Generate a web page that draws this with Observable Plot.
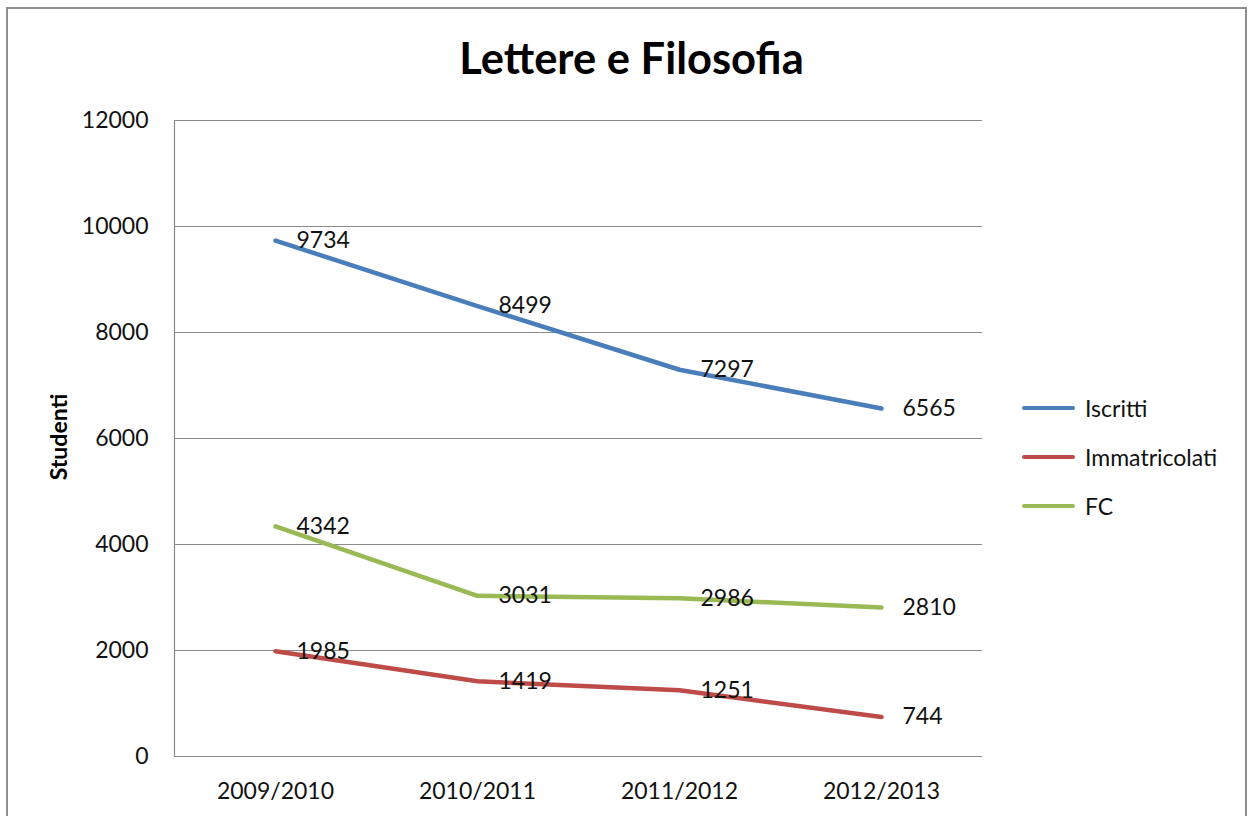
<!DOCTYPE html>
<html><head><meta charset="utf-8">
<script src="https://cdn.jsdelivr.net/npm/d3@7"></script>
<script src="https://cdn.jsdelivr.net/npm/@observablehq/plot@0.6"></script>
<style>
body{margin:0;background:#fff;font-family:Lato,"Open Sans",sans-serif;}
#wrap{position:relative;width:1249px;height:816px;overflow:hidden;background:#fff;}
#frame{position:absolute;left:6px;top:7px;width:1241px;height:830px;border:2px solid #8e8e8e;box-sizing:border-box;}
#title{position:absolute;left:0;width:1263px;top:36px;text-align:center;font-weight:bold;font-size:43.5px;color:#000;line-height:1;}
#ylab{position:absolute;left:58px;top:437px;transform:translate(-50%,-50%) rotate(-90deg);font-weight:bold;font-size:23px;color:#000;white-space:nowrap;}
#chart{position:absolute;left:0;top:0;}
#legend{position:absolute;left:1022px;top:383px;}
.item{display:flex;align-items:center;height:49px;font-size:23px;color:#111;}
.sw{width:53px;height:4px;border-radius:2px;margin-right:10px;}
</style></head>
<body>
<div id="wrap">
<div id="frame"></div>
<div id="chart"></div>
<div id="title">Lettere e Filosofia</div>
<div id="ylab">Studenti</div>
<div id="legend"></div>
</div>
<script>
const years = ["2009/2010","2010/2011","2011/2012","2012/2013"];
const series = ["Iscritti","Immatricolati","FC"];
const colors = ["#4a7ebb","#be4b48","#98b954"];
const iscritti = [9734, 8499, 7297, 6565];
const immatricolati = [1985, 1419, 1251, 744];
const fc = [4342, 3031, 2986, 2810];
const yTicks = [0,2000,4000,6000,8000,10000,12000];

const values = [iscritti, immatricolati, fc];
const data = [];
series.forEach((s,i)=>years.forEach((y,j)=>data.push({series:s, year:y, value:values[i][j]})));

const plot = Plot.plot({
  width:1249, height:816,
  marginLeft:174, marginRight:267, marginTop:120, marginBottom:60,
  style:{fontFamily:"Lato, 'Open Sans', sans-serif", background:"transparent"},
  x:{type:"point", domain:years, padding:0.5},
  y:{domain:[0,12000]},
  color:{domain:series, range:colors},
  marks:[
    Plot.gridY(yTicks,{stroke:"#8a8a8a", strokeOpacity:1, strokeWidth:1.2}),
    Plot.frame({anchor:"left", stroke:"#8a8a8a", strokeWidth:1.2}),
    Plot.axisY({ticks:yTicks, tickSize:0, tickPadding:26, fontSize:23, label:null, tickFormat:d=>String(d), fill:"#111"}),
    Plot.axisX({tickSize:0, tickPadding:26, fontSize:23, label:null, fill:"#111"}),
    Plot.line(data,{x:"year", y:"value", z:"series", stroke:"series", strokeWidth:4.5, curve:"linear"}),
    Plot.text(data,{x:"year", y:"value", text:d=>String(d.value), dx:21, textAnchor:"start", fontSize:23, fill:"#111"})
  ]
});
document.getElementById("chart").appendChild(plot);

const leg = document.getElementById("legend");
series.forEach((s,i)=>{
  const it=document.createElement("div"); it.className="item";
  const sw=document.createElement("div"); sw.className="sw"; sw.style.background=colors[i];
  const t=document.createElement("span"); t.textContent=s;
  it.appendChild(sw); it.appendChild(t); leg.appendChild(it);
});
</script>
</body></html>
